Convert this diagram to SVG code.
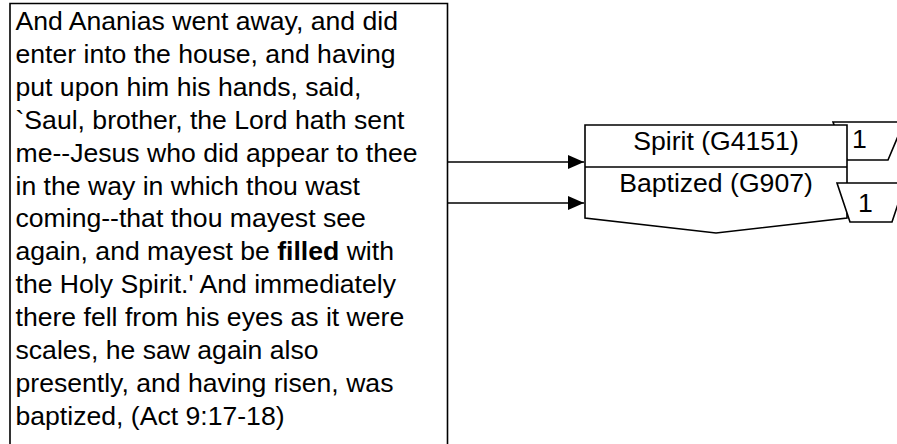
<svg xmlns="http://www.w3.org/2000/svg" width="897" height="444" viewBox="0 0 897 444">
<style>
  .box { fill: #ffffff; stroke: #000000; stroke-width: 1.6; }
  .ln { fill: none; stroke: #000000; stroke-width: 1.6; }
  .t { font-family: "Liberation Sans", Arial, Helvetica, sans-serif; font-size: 26.6px; fill: #000000; }
  .c { text-anchor: middle; }
  .conn { fill: none; stroke: #000000; stroke-width: 1.6; marker-end: url(#arrow); }
</style>
<defs>
  <marker id="arrow" markerUnits="userSpaceOnUse" markerWidth="17" markerHeight="15" refX="16" refY="7" orient="auto">
    <path d="M0,0 L16,7 L0,14 Z" fill="#000000"/>
  </marker>
</defs>
<rect width="897" height="444" fill="#ffffff"/>

<g id="verse">
  <path class="ln" d="M10,450 V3.5 H447.5 V450" style="fill:#ffffff"/>
  <text class="t" x="15.5">
    <tspan x="15.5" y="30">And Ananias went away, and did</tspan>
    <tspan x="15.5" y="62.9">enter into the house, and having</tspan>
    <tspan x="15.5" y="95.8">put upon him his hands, said,</tspan>
    <tspan x="15.5" y="128.7">`Saul, brother, the Lord hath sent</tspan>
    <tspan x="15.5" y="161.6">me--Jesus who did appear to thee</tspan>
    <tspan x="15.5" y="194.5">in the way in which thou wast</tspan>
    <tspan x="15.5" y="227.4">coming--that thou mayest see</tspan>
    <tspan x="15.5" y="260.3">again, and mayest be <tspan font-weight="bold">filled</tspan> with</tspan>
    <tspan x="15.5" y="293.2">the Holy Spirit.' And immediately</tspan>
    <tspan x="15.5" y="326.1">there fell from his eyes as it were</tspan>
    <tspan x="15.5" y="359">scales, he saw again also</tspan>
    <tspan x="15.5" y="391.9">presently, and having risen, was</tspan>
    <tspan x="15.5" y="424.8">baptized, (Act 9:17-18)</tspan>
  </text>
</g>

<g id="count-top">
  <path class="box" d="M833,122 H904 L888,160 H847 Z"/>
  <text class="t" x="852" y="148">1</text>
</g>

<g id="words">
  <path class="box" d="M585,125 H847 V218 L716,233 L585,218 Z"/>
  <line class="ln" x1="585" y1="167" x2="847" y2="167"/>
  <text class="t c" x="716" y="150">Spirit (G4151)</text>
  <text class="t c" x="716" y="192">Baptized (G907)</text>
</g>

<g id="count-bottom">
  <path class="box" d="M837,183 H905 L892,222 H850 Z"/>
  <text class="t" x="858" y="212">1</text>
</g>

<g id="connectors">
  <path class="conn" d="M447.5,162 H584"/>
  <path class="conn" d="M447.5,203 H584"/>
</g>
</svg>
